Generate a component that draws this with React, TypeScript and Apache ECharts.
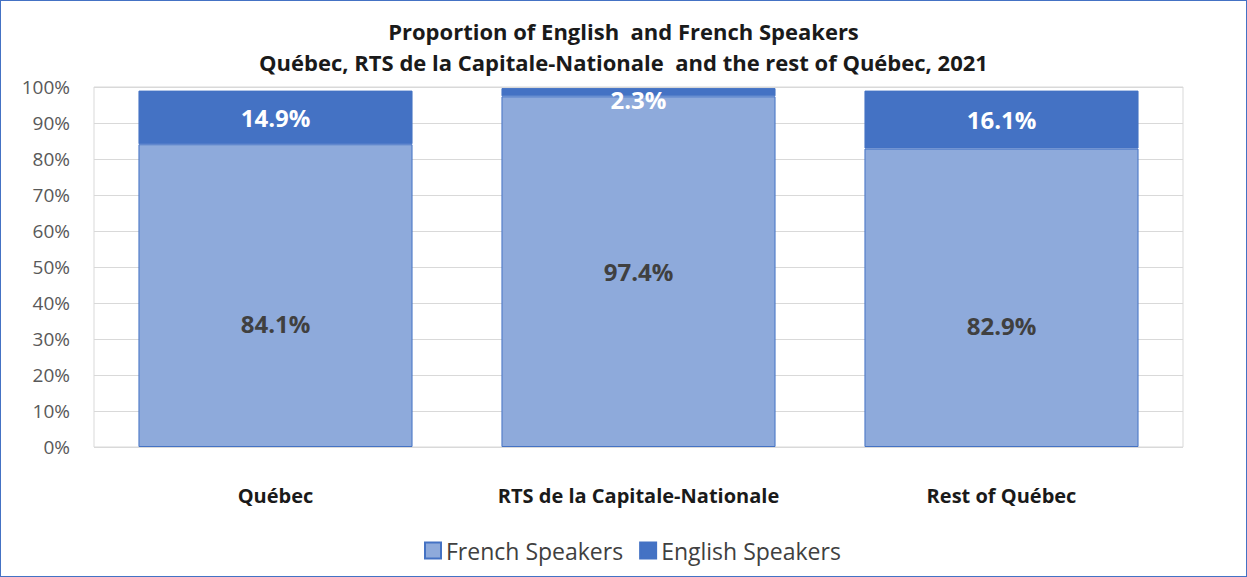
import React, { useEffect, useRef } from "react";
import * as echarts from "echarts";

const categories = ["Québec", "RTS de la Capitale-Nationale", "Rest of Québec"];
const frenchSpeakers = [84.1, 97.4, 82.9];
const englishSpeakers = [14.9, 2.3, 16.1];
const seriesNames = ["French Speakers", "English Speakers"];
const titleLines = [
  "Proportion of English  and French Speakers",
  "Québec, RTS de la Capitale-Nationale  and the rest of Québec, 2021",
];

const FONT = "'Open Sans', 'Noto Sans', sans-serif";

export default function App() {
  const ref = useRef<HTMLDivElement>(null);
  useEffect(() => {
    if (!ref.current) return;
    const chart = echarts.init(ref.current, null, { renderer: "svg" });
    chart.setOption({
      animation: false,
      backgroundColor: "#ffffff",
      textStyle: { fontFamily: FONT },
      title: {
        text: titleLines.join("\n"),
        left: "center",
        top: 9,
        textStyle: {
          fontFamily: FONT,
          fontSize: 22,
          fontWeight: "bold",
          color: "#1a1a1a",
          lineHeight: 31,
        },
      },
      legend: {
        bottom: 9,
        left: 418,
        itemWidth: 16,
        itemHeight: 16,
        itemGap: 16,
        icon: "rect",
        textStyle: { fontFamily: FONT, fontSize: 23, color: "#404040" },
        data: seriesNames,
      },
      grid: {
        left: 93,
        right: 63,
        top: 86,
        bottom: 129,
        show: true,
        borderColor: "#d9d9d9",
        borderWidth: 1,
      },
      xAxis: {
        type: "category",
        data: categories,
        axisLine: { show: false },
        axisTick: { show: false },
        axisLabel: {
          interval: 0,
          margin: 38,
          fontFamily: FONT,
          fontSize: 20,
          fontWeight: "bold",
          color: "#1a1a1a",
        },
      },
      yAxis: {
        type: "value",
        min: 0,
        max: 100,
        interval: 10,
        axisLine: { show: false },
        axisTick: { show: false },
        splitLine: { lineStyle: { color: "#d9d9d9", width: 1 } },
        axisLabel: {
          formatter: "{value}%",
          fontFamily: FONT,
          fontSize: 19,
          color: "#595959",
          margin: 24,
        },
      },
      series: [
        {
          name: seriesNames[0],
          type: "bar",
          stack: "total",
          barWidth: "75.5%",
          itemStyle: { color: "#8eaadb", borderColor: "#4472c4", borderWidth: 1 },
          label: {
            show: true,
            position: "inside",
            formatter: (p: any) => p.value.toFixed(1) + "%",
            fontFamily: FONT,
            fontSize: 24,
            fontWeight: "bold",
            color: "#404040",
          },
          data: frenchSpeakers.map((v) =>
            v < 90 ? { value: v, label: { offset: [0, 28] } } : v
          ),
        },
        {
          name: seriesNames[1],
          type: "bar",
          stack: "total",
          barWidth: "75.5%",
          itemStyle: { color: "#4472c4", borderColor: "#4472c4", borderWidth: 1 },
          label: {
            show: true,
            position: "inside",
            formatter: (p: any) => p.value.toFixed(1) + "%",
            fontFamily: FONT,
            fontSize: 24,
            fontWeight: "bold",
            color: "#ffffff",
          },
          data: englishSpeakers.map((v) =>
            v < 5
              ? { value: v, label: { position: "insideTop", distance: -1 } }
              : v
          ),
        },
      ],
    });
    return () => chart.dispose();
  }, []);
  return (
    <div
      style={{
        position: "fixed",
        left: 0,
        top: 0,
        width: 1247,
        height: 577,
        boxSizing: "border-box",
        border: "1px solid #4472c4",
        background: "#fff",
      }}
    >
      <div ref={ref} style={{ width: 1245, height: 575 }} />
    </div>
  );
}
